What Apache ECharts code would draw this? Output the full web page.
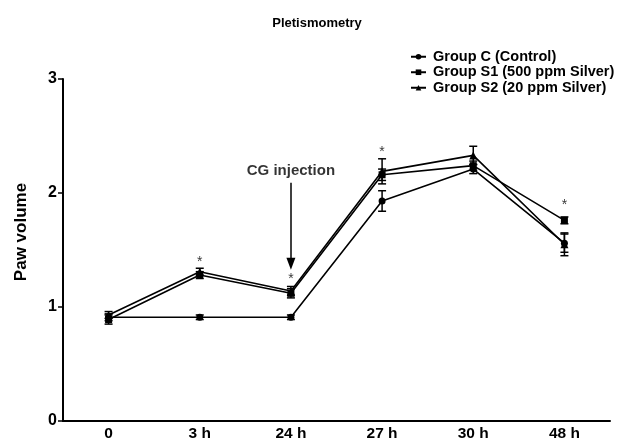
<!DOCTYPE html>
<html>
<head>
<meta charset="utf-8">
<script src="https://cdn.jsdelivr.net/npm/echarts@6/dist/echarts.min.js"></script>
<style>
  html, body { margin: 0; padding: 0; background: #fff; }
  #chart { width: 626px; height: 446px; }
</style>
</head>
<body>
<div id="chart"></div>
<script>
var categories = ['0', '3 h', '24 h', '27 h', '30 h', '48 h'];
var yTicks = [0, 1, 2, 3];

var groupC = [0.91, 0.91, 0.91, 1.93, 2.21, 1.56];
var groupCErr = [0.03, 0.02, 0.02, 0.09, 0.04, 0.08];
var groupS1 = [0.89, 1.28, 1.12, 2.16, 2.24, 1.76];
var groupS1Err = [0.04, 0.03, 0.04, 0.05, 0.04, 0.03];
var groupS2 = [0.93, 1.31, 1.14, 2.19, 2.33, 1.55];
var groupS2Err = [0.03, 0.03, 0.04, 0.11, 0.08, 0.10];

// significance markers: [category, y]
var stars = [['3 h', 1.39], ['24 h', 1.24], ['27 h', 2.36], ['48 h', 1.89]];
// injection arrow
var arrowFrom = ['24 h', 2.09];
var arrowTo = ['24 h', 1.38];
var arrowLabel = ['24 h', 2.19];

var fontFam = 'Liberation Sans, Arial, sans-serif';

function errorSeries(vals, errs) {
	var d = vals.map(function (v, i) { return [i, v - errs[i], v + errs[i]]; });
	return {
		type: 'custom',
		silent: true,
		z: 3,
		renderItem: function (params, api) {
			var x = api.value(0);
			var lo = api.coord([x, api.value(1)]);
			var hi = api.coord([x, api.value(2)]);
			var w = 4;
			var st = { stroke: '#000', lineWidth: 1.5 };
			return {
				type: 'group',
				children: [
					{ type: 'line', shape: { x1: lo[0], y1: lo[1], x2: hi[0], y2: hi[1] }, style: st },
					{ type: 'line', shape: { x1: lo[0] - w, y1: lo[1], x2: lo[0] + w, y2: lo[1] }, style: st },
					{ type: 'line', shape: { x1: hi[0] - w, y1: hi[1], x2: hi[0] + w, y2: hi[1] }, style: st }
				]
			};
		},
		encode: { x: 0, y: [1, 2] },
		data: d
	};
}

function lineSeries(name, vals, symbol, size) {
	return {
		name: name,
		type: 'line',
		data: vals,
		symbol: symbol,
		symbolSize: size,
		z: 4,
		lineStyle: { color: '#000', width: 1.6 },
		itemStyle: { color: '#000' }
	};
}

var chart = echarts.init(document.getElementById('chart'));
chart.setOption({
	animation: false,
	title: {
		text: 'Pletismometry',
		left: 312,
		top: 12,
		textAlign: 'center',
		textStyle: { fontFamily: fontFam, fontSize: 13, fontWeight: 'bold', color: '#000' }
	},
	legend: {
		orient: 'vertical',
		left: 405,
		top: 44,
		itemWidth: 15,
		itemHeight: 7,
		itemGap: 0,
		data: ['Group C (Control)', 'Group S1 (500 ppm Silver)', 'Group S2 (20 ppm Silver)'],
		textStyle: { fontFamily: fontFam, fontSize: 14.5, lineHeight: 15.5, fontWeight: 'bold', color: '#000', padding: [0, 0, 0, 2] }
	},
	grid: { left: 63, right: 16, top: 79, bottom: 25, containLabel: false },
	xAxis: {
		type: 'category',
		data: categories,
		boundaryGap: true,
		axisLine: { lineStyle: { color: '#000', width: 2 } },
		axisTick: { alignWithLabel: true, length: 5, lineStyle: { color: '#000', width: 1.5 } },
		axisLabel: { fontFamily: fontFam, fontSize: 15.5, fontWeight: 'bold', color: '#000', margin: 5 }
	},
	yAxis: {
		type: 'value',
		min: yTicks[0],
		max: yTicks[yTicks.length - 1],
		interval: 1,
		name: 'Paw volume',
		nameLocation: 'middle',
		nameGap: 33,
		nameTextStyle: { fontFamily: fontFam, fontSize: 17, fontWeight: 'bold', color: '#000', padding: [0, 0, 0, 36] },
		splitLine: { show: false },
		axisLine: { show: true, lineStyle: { color: '#000', width: 2 } },
		axisTick: { show: true, length: 5, lineStyle: { color: '#000', width: 1.5 } },
		axisLabel: { fontFamily: fontFam, fontSize: 16, fontWeight: 'bold', color: '#000', margin: 6 }
	},
	series: [
		lineSeries('Group C (Control)', groupC, 'circle', 7),
		lineSeries('Group S1 (500 ppm Silver)', groupS1, 'rect', 7),
		lineSeries('Group S2 (20 ppm Silver)', groupS2, 'triangle', 8),
		errorSeries(groupC, groupCErr),
		errorSeries(groupS1, groupS1Err),
		errorSeries(groupS2, groupS2Err),
		{
			type: 'scatter',
			silent: true,
			symbolSize: 0,
			data: stars,
			label: {
				show: true,
				formatter: '*',
				position: 'inside',
				fontFamily: fontFam,
				fontSize: 14,
				color: '#000'
			}
		},
		{
			type: 'scatter',
			silent: true,
			symbolSize: 0,
			data: [arrowLabel],
			label: {
				show: true,
				formatter: 'CG injection',
				position: 'inside',
				fontFamily: fontFam,
				fontSize: 15,
				fontWeight: 'bold',
				color: '#000'
			},
			markLine: {
				silent: true,
				symbol: ['none', 'triangle'],
				symbolSize: [9, 12],
				label: { show: false },
				lineStyle: { color: '#000', width: 1.5, type: 'solid' },
				data: [[{ coord: arrowFrom }, { coord: arrowTo }]]
			}
		}
	]
});
</script>
</body>
</html>
